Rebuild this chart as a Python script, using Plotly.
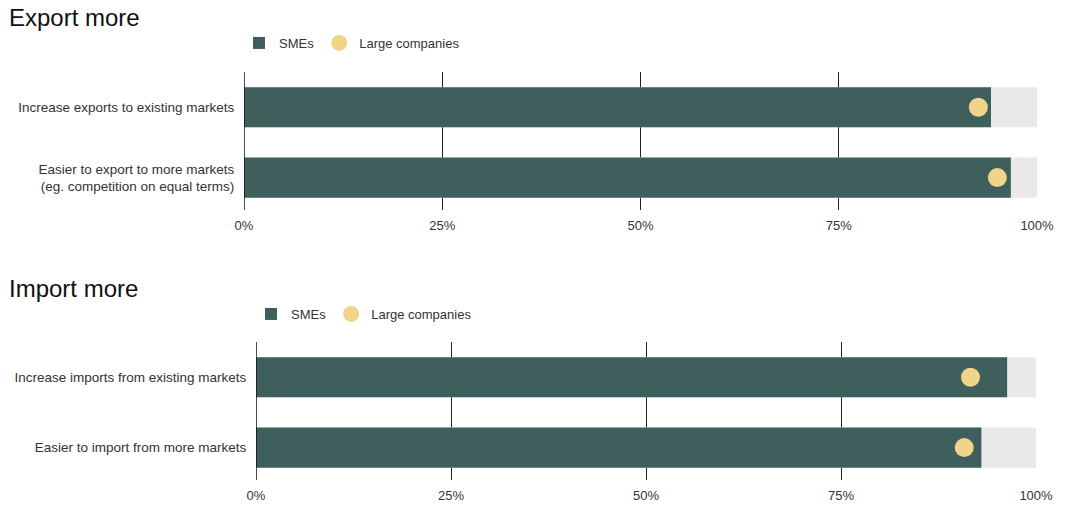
import plotly.graph_objects as go

# Survey shares (%) for the two panels
export_cats = ["Increase exports to existing markets",
               "Easier to export to more markets<br>(eg. competition on equal terms)"]
export_sme = [94.2, 96.7]
export_large = [92.6, 95.0]

import_cats = ["Increase imports from existing markets",
               "Easier to import from more markets"]
import_sme = [96.3, 93.0]
import_large = [91.6, 90.8]

full_scale = [100, 100]
tick_vals = [0, 25, 50, 75, 100]
tick_text = ["0%", "25%", "50%", "75%", "100%"]

SME_COLOR = "#3f5f5c"
LARGE_COLOR = "#f0d48a"
TRACK_COLOR = "#e9e9e9"
FONT = "Liberation Sans, Arial, sans-serif"

W, H = 1070, 521


def px_x(p):
    return p / W


def px_y(p):
    return 1 - p / H


fig = go.Figure()

panels = [
    (export_cats, export_sme, export_large, "x", "y", "legend"),
    (import_cats, import_sme, import_large, "x2", "y2", "legend2"),
]

for cats, sme, large, xa, ya, lg in panels:
    fig.add_trace(go.Bar(
        x=full_scale, y=cats, orientation="h", marker_color=TRACK_COLOR,
        marker_line_width=0, width=0.57, showlegend=False, hoverinfo="skip",
        xaxis=xa, yaxis=ya))
    fig.add_trace(go.Bar(
        x=sme, y=cats, orientation="h", marker_color=SME_COLOR,
        marker_line_width=0, width=0.57, name="SMEs", legend=lg,
        xaxis=xa, yaxis=ya))
    fig.add_trace(go.Scatter(
        x=large, y=cats, mode="markers",
        marker=dict(color=LARGE_COLOR, size=19, line_width=0),
        name="Large companies", legend=lg, xaxis=xa, yaxis=ya))

xcommon = dict(range=[0, 100], tickvals=tick_vals, ticktext=tick_text,
               showgrid=True, gridcolor="#222", gridwidth=1,
               zeroline=False, showline=False, fixedrange=True,
               ticks="outside", ticklen=3, tickcolor="rgba(0,0,0,0)",
               tickfont=dict(size=13, color="#333", family=FONT),
               automargin=False)
ycommon = dict(type="category", range=[1.46, -0.5], showgrid=False,
               zeroline=False, showline=False, ticks="outside", ticklen=6,
               tickcolor="rgba(0,0,0,0)",
               tickfont=dict(size=13.5, color="#333", family=FONT),
               automargin=False)

legend_font = dict(size=13, color="#333", family=FONT)

fig.update_layout(
    width=W, height=H,
    margin=dict(l=0, r=0, t=0, b=0),
    paper_bgcolor="white", plot_bgcolor="white",
    barmode="overlay",
    font=dict(family=FONT, color="#333"),
    xaxis=dict(domain=[px_x(244), px_x(1037)], anchor="y", **xcommon),
    yaxis=dict(domain=[px_y(210), px_y(72)], anchor="x", **ycommon),
    xaxis2=dict(domain=[px_x(256), px_x(1036)], anchor="y2", **xcommon),
    yaxis2=dict(domain=[px_y(480), px_y(342)], anchor="x2", **ycommon),
    legend=dict(orientation="h", x=px_x(239), y=px_y(28), xanchor="left",
                yanchor="top", font=legend_font, bgcolor="rgba(0,0,0,0)"),
    legend2=dict(orientation="h", x=px_x(251), y=px_y(299), xanchor="left",
                 yanchor="top", font=legend_font, bgcolor="rgba(0,0,0,0)"),
    annotations=[
        dict(text="Export more", x=px_x(7), y=px_y(17), xref="paper",
             yref="paper", xanchor="left", yanchor="middle", showarrow=False,
             font=dict(size=24, color="#111", family=FONT)),
        dict(text="Import more", x=px_x(7), y=px_y(288), xref="paper",
             yref="paper", xanchor="left", yanchor="middle", showarrow=False,
             font=dict(size=24, color="#111", family=FONT)),
    ],
)

# Darker baseline at 0%
for xa, ya in [("x", "y"), ("x2", "y2")]:
    fig.add_shape(type="line", x0=0, x1=0, y0=0, y1=1, xref=xa,
                  yref=f"{ya} domain", line=dict(color="#111", width=1.5))

fig.write_html("out.html")
